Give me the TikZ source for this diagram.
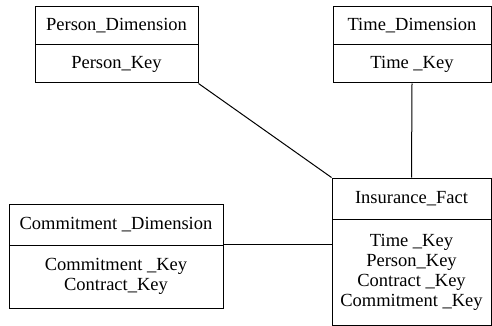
\documentclass[tikz,border=0pt]{standalone}
\usepackage{fontspec}
\setmainfont{Liberation Serif}
\begin{document}
\begin{tikzpicture}[x=1pt,y=-1pt,
  cell/.style={draw=black, line width=1pt, rectangle, inner sep=0pt, align=center,
    font=\fontsize{18.5}{20}\selectfont},
  conn/.style={draw=black, line width=1pt}]
\useasboundingbox (0,0) rectangle (492,326);
% Person_Dimension
\node[cell, minimum width=163pt, minimum height=38pt] (ph) at (116.5,26) {Person\_Dimension};
\node[cell, minimum width=163pt, minimum height=38pt] (pb) at (116.5,64) {Person\_Key};
% Time_Dimension
\node[cell, minimum width=158pt, minimum height=38pt] (th) at (412,26) {Time\_Dimension};
\node[cell, minimum width=158pt, minimum height=38pt] (tb) at (412,64) {Time \_Key};
% Insurance_Fact
\node[cell, minimum width=159pt, minimum height=41pt] (ih) at (411.5,198.5) {Insurance\_Fact};
\node[cell, minimum width=159pt, minimum height=106pt] (ib) at (411.5,272) {Time \_Key\\Person\_Key\\Contract \_Key\\Commitment \_Key};
% Commitment_Dimension
\node[cell, minimum width=214pt, minimum height=41pt] (ch) at (116,224.5) {Commitment \_Dimension};
\node[cell, minimum width=214pt, minimum height=63pt] (cb) at (116,276.5) {Commitment \_Key\\Contract\_Key};
% connectors
\draw[conn] (pb.south east) -- (ih.north west);
\draw[conn] (tb.south) -- (ih.north);
\draw[conn] (cb.north east) -- (cb.north east -| ib.west);
\end{tikzpicture}
\end{document}
